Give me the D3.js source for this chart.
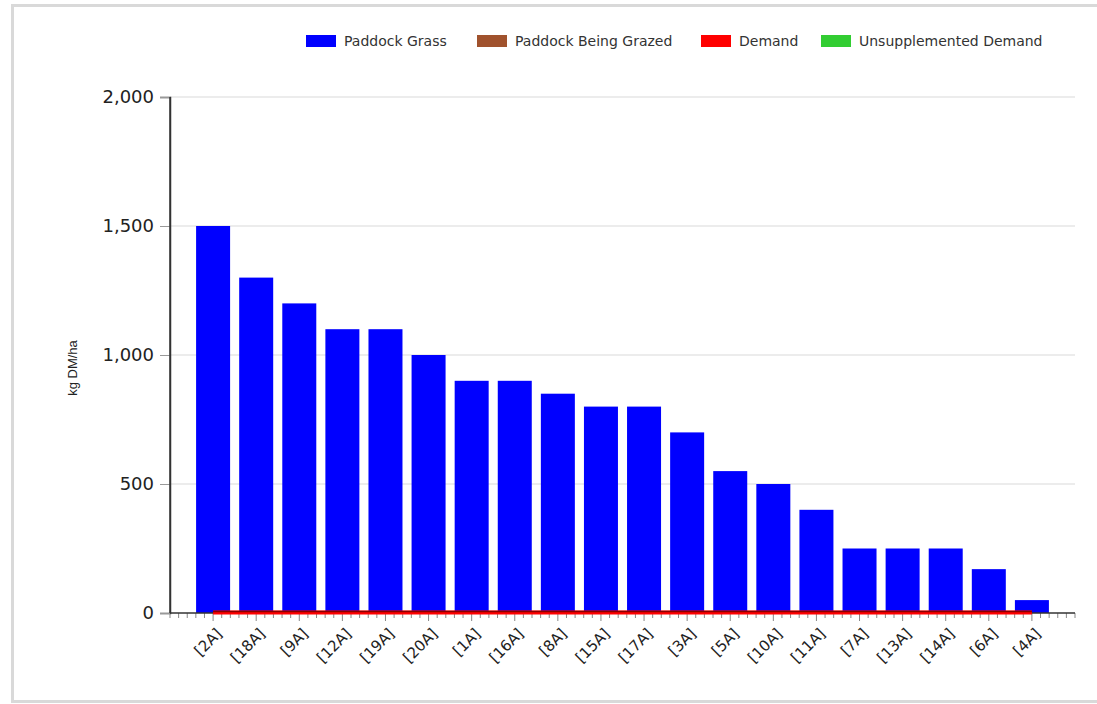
<!DOCTYPE html>
<html><head><meta charset="utf-8">
<script src="https://cdn.jsdelivr.net/npm/d3@7"></script>
<style>body{margin:0;background:#fff;font-family:"DejaVu Sans",sans-serif;}</style>
</head><body><svg id="c" width="1097" height="704"></svg>
<script>
const categories = ["[2A]","[18A]","[9A]","[12A]","[19A]","[20A]","[1A]","[16A]","[8A]","[15A]","[17A]","[3A]","[5A]","[10A]","[11A]","[7A]","[13A]","[14A]","[6A]","[4A]"];
const paddockGrass = [1500,1300,1200,1100,1100,1000,900,900,850,800,800,700,550,500,400,250,250,250,170,50];
const demand = [0,0,0,0,0,0,0,0,0,0,0,0,0,0,0,0,0,0,0,0];
const yTicks = [0,500,1000,1500,2000];
const legendItems = ["Paddock Grass","Paddock Being Grazed","Demand","Unsupplemented Demand"];
const legendColors = ["#0000FF","#A0522D","#FF0000","#32CD32"];

const svg = d3.select("#c");
const FONT = "DejaVu Sans, sans-serif";
// frame
svg.append("rect").attr("x",12.5).attr("y",5.5).attr("width",1100).attr("height",696)
  .attr("fill","none").attr("stroke","#d9d9d9").attr("stroke-width",3);

const pL=170, pR=1075, pT=97, pB=613;
const n = categories.length;
const x = d3.scaleLinear().domain([0, n+1]).range([pL,pR]);
const y = d3.scaleLinear().domain([0,2000]).range([pB,pT]);
const bw = 34;

// gridlines
svg.append("g").selectAll("line").data(yTicks.filter(d=>d>0)).join("line")
  .attr("x1",pL).attr("x2",pR).attr("y1",d=>y(d)).attr("y2",d=>y(d))
  .attr("stroke","#d9d9d9").attr("stroke-width",1.2);

// y axis
const ya = svg.append("g").attr("transform",`translate(${pL},0)`)
  .call(d3.axisLeft(y).tickValues(yTicks).tickFormat(d3.format(",")).tickSize(10).tickPadding(6));
ya.select(".domain").attr("stroke","#333").attr("stroke-width",1.5);
ya.selectAll(".tick line").attr("stroke","#999");
ya.selectAll("text").attr("font-size",18).attr("fill","#222").attr("font-family",FONT);

svg.append("text").attr("transform","translate(77,368) rotate(-90)")
  .attr("text-anchor","middle").attr("font-size",13).attr("fill","#222")
  .attr("font-family","Liberation Sans, Arial, sans-serif").text("kg DM/ha");

// bars
svg.append("g").selectAll("rect").data(paddockGrass).join("rect")
  .attr("x",(d,i)=>x(i+1)-bw/2).attr("width",bw)
  .attr("y",d=>y(d)).attr("height",d=>y(0)-y(d))
  .attr("fill","#0000FF");

// x axis with minor ticks
const minor = d3.range(0,(n+1)*5+1).map(k=>k/5);
svg.append("g").selectAll("line").data(minor).join("line")
  .attr("x1",d=>x(d)).attr("x2",d=>x(d)).attr("y1",pB).attr("y2",d=>(Math.abs(d-Math.round(d))<1e-6 && d>0 && d<n+1)?pB+8:pB+5)
  .attr("stroke","#888").attr("stroke-width",1);
svg.append("line").attr("x1",pL).attr("x2",pR).attr("y1",pB).attr("y2",pB)
  .attr("stroke","#333").attr("stroke-width",1.5);
svg.append("line").attr("x1",pL).attr("x2",pL).attr("y1",pT).attr("y2",pB)
  .attr("stroke","#333").attr("stroke-width",1.5);

// demand line
const line = d3.line().x((d,i)=>x(i+1)).y(d=>y(d));
svg.append("path").datum(demand).attr("d",line).attr("fill","none")
  .attr("stroke","#FF0000").attr("stroke-width",4).attr("transform","translate(0,-0.5)");
svg.append("path").datum(demand).attr("d",line).attr("fill","none")
  .attr("stroke","#8B0000").attr("stroke-width",1.5).attr("transform","translate(0,-1.5)");

// x labels
svg.append("g").selectAll("text").data(categories).join("text")
  .attr("transform",(d,i)=>`translate(${x(i+1)+6},${pB+18}) rotate(-45)`)
  .attr("text-anchor","end").attr("dy","0.35em")
  .attr("font-size",15).attr("font-family",FONT).attr("fill","#222").text(d=>d);

// legend
const legX = [306,477,701,821];
const lg = svg.append("g");
legendItems.forEach((t,i)=>{
  lg.append("rect").attr("x",legX[i]).attr("y",35).attr("width",30).attr("height",12).attr("fill",legendColors[i]);
  lg.append("text").attr("x",legX[i]+38).attr("y",46).attr("font-size",14).attr("font-family",FONT).attr("fill","#333").text(t);
});
</script></body></html>
